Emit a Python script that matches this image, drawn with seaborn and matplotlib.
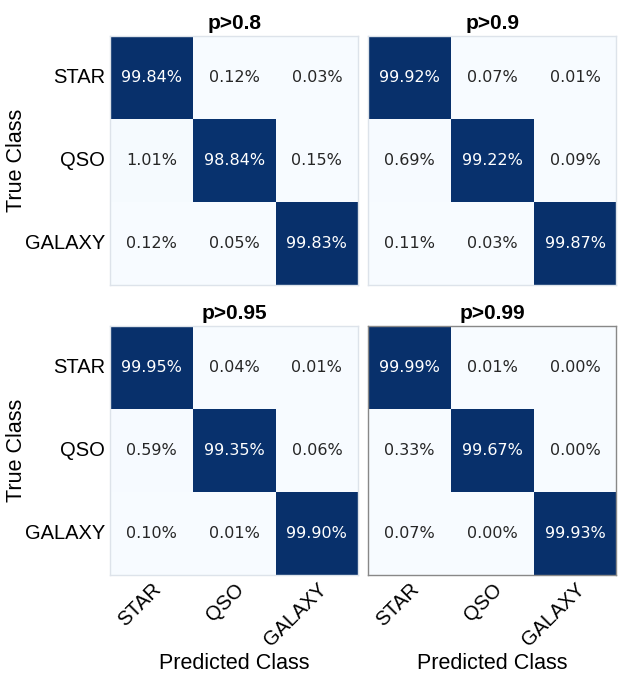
import numpy as np
import pandas as pd
import matplotlib
matplotlib.use("Agg")
import matplotlib.pyplot as plt
import seaborn as sns

# class names and per-threshold confusion matrices (row-normalised, in %)
classes = ["STAR", "QSO", "GALAXY"]
thresholds = ["p>0.8", "p>0.9", "p>0.95", "p>0.99"]

cm_08 = [[99.84, 0.12, 0.03],
         [1.01, 98.84, 0.15],
         [0.12, 0.05, 99.83]]
cm_09 = [[99.92, 0.07, 0.01],
         [0.69, 99.22, 0.09],
         [0.11, 0.03, 99.87]]
cm_095 = [[99.95, 0.04, 0.01],
          [0.59, 99.35, 0.06],
          [0.10, 0.01, 99.90]]
cm_099 = [[99.99, 0.01, 0.00],
          [0.33, 99.67, 0.00],
          [0.07, 0.00, 99.93]]

matrices = [cm_08, cm_09, cm_095, cm_099]

sns.set_style("white")
plt.rcParams['font.family'] = ['Liberation Sans', 'DejaVu Sans']
plt.rcParams['text.color'] = 'black'
plt.rcParams['axes.labelcolor'] = 'black'
plt.rcParams['xtick.color'] = 'black'
plt.rcParams['ytick.color'] = 'black'

fig = plt.figure(figsize=(6.22, 6.75), dpi=100)

# axes rectangles [left, bottom, width, height] in figure fraction
lefts = [0.177, 0.592, 0.177, 0.592]
bottoms = [0.578, 0.578, 0.148, 0.148]
w, h = 0.399, 0.369

for i, (mat, title) in enumerate(zip(matrices, thresholds)):
    ax = fig.add_axes([lefts[i], bottoms[i], w, h])
    df = pd.DataFrame(mat, index=classes, columns=classes)
    labels = np.array([["{:.2f}%".format(v) for v in row] for row in mat])
    sns.heatmap(df, ax=ax, cmap="Blues", vmin=0, vmax=100, cbar=False,
                annot=labels, fmt="", square=False,
                annot_kws={"size": 11.5, "family": "DejaVu Sans"})
    ax.set_title(title, fontsize=15, fontweight="bold", pad=5, color="black")
    ax.tick_params(length=0)
    for sp in ax.spines.values():
        sp.set_visible(True)
        sp.set_color("#888888" if i == 3 else "#dde3ea")
        sp.set_linewidth(1.0)
    if i % 2 == 0:
        ax.set_yticklabels(classes, rotation=0, fontsize=14.5)
        ax.set_ylabel("True Class", fontsize=15.5)
        ax.yaxis.set_label_coords(-0.335, 0.5)
    else:
        ax.set_yticks([])
        ax.set_ylabel("")
    if i >= 2:
        ax.set_xticklabels(classes, rotation=45, ha="right",
                           rotation_mode="anchor", fontsize=14.5)
        ax.set_xlabel("Predicted Class", fontsize=15.5, labelpad=2)
    else:
        ax.set_xticks([])
        ax.set_xlabel("")

fig.savefig("out.png", dpi=100)
